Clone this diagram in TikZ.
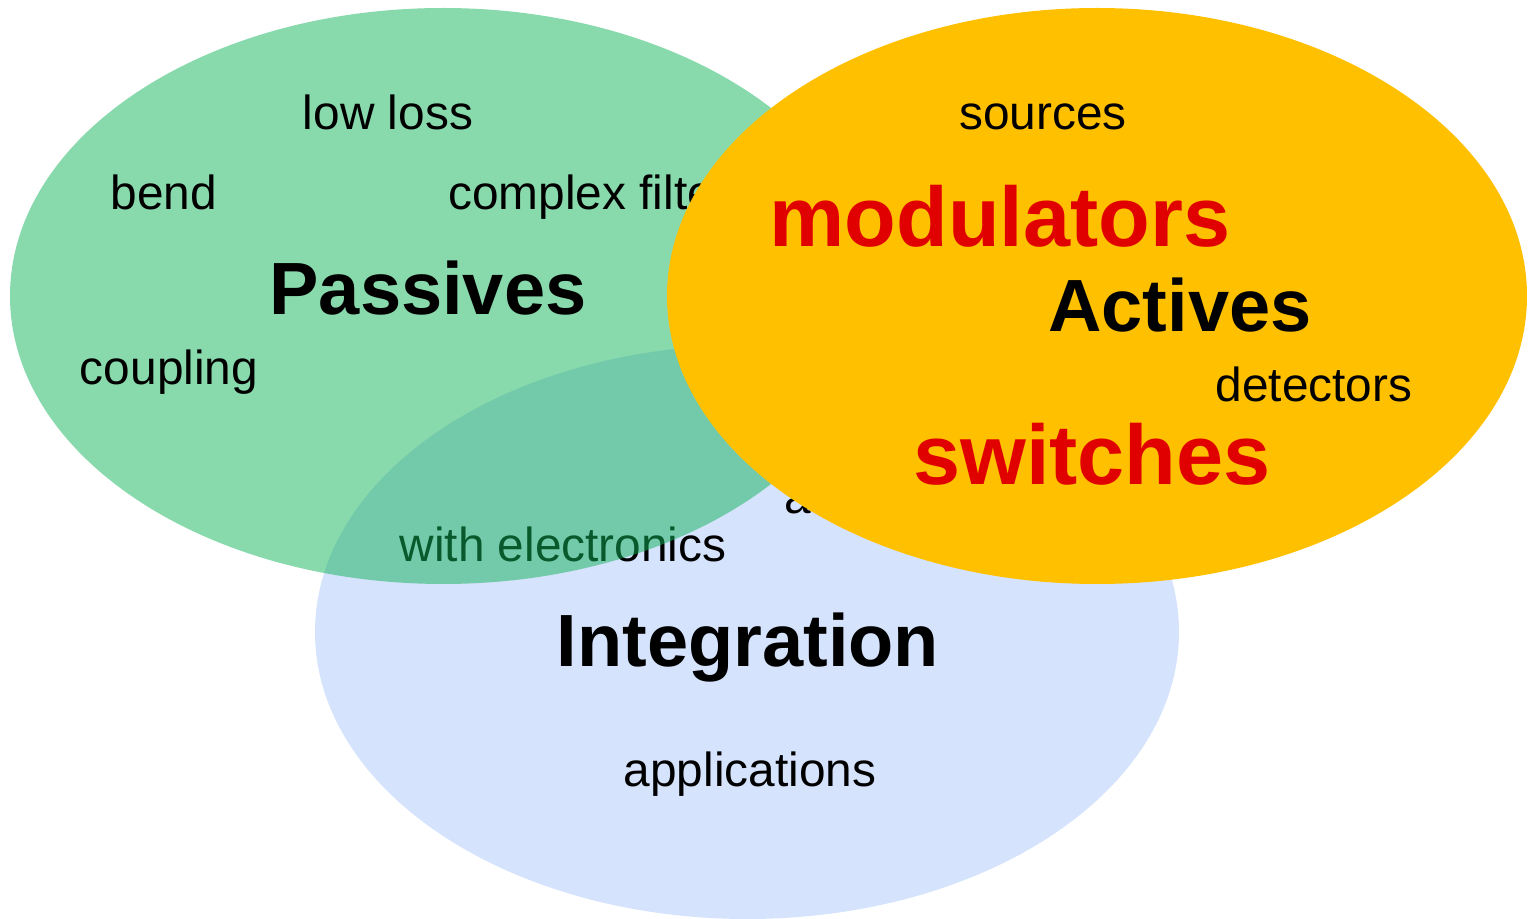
\documentclass[tikz,border=0pt]{standalone}
\usepackage{fontspec}
\setmainfont{Liberation Sans}
\usepackage{tikz}
\usetikzlibrary{calc}

\definecolor{passgreen}{HTML}{11B359}
\definecolor{intblue}{HTML}{D6E3FC}
\definecolor{actorange}{HTML}{FFC000}
\definecolor{actred}{HTML}{E00000}

\tikzset{
  word/.style={anchor=base, inner sep=0pt, font=\fontsize{23.9}{28}\selectfont},
  title/.style={anchor=base, inner sep=0pt, font=\fontsize{37}{44}\selectfont\bfseries},
  hot/.style={anchor=base, inner sep=0pt, text=actred, font=\fontsize{42.3}{50}\selectfont\bfseries}
}

\begin{document}
\begin{tikzpicture}[x=0.5pt, y=-0.5pt]
\useasboundingbox (0,0) rectangle (1528,919);
% integration set
\fill[intblue] (747,632) ellipse [x radius=216pt, y radius=143.5pt];
\path (748,667) node[title] (integ) {Integration}
    (750,786) node[word] (apps) {applications}
    (563,562) node[word] (withel) {with electronics}
    (784,514) node[word, anchor=base west] (adv) {active};
% passives set
\fill[passgreen, fill opacity=0.5] (443,296) ellipse [x radius=216.5pt, y radius=144pt];
\path (428,315) node[title] (pass) {Passives}
    (388,130) node[word] (lowloss) {low loss}
    (164,210) node[word] (bend) {bend}
    (448,210) node[word, anchor=base west] (filt) {complex filters}
    (169,385) node[word] (coupl) {coupling};
% actives set
\fill[actorange] (1097,296) ellipse [x radius=215pt, y radius=144pt];
\path (1180,332) node[title] (act) {Actives}
    (1043,130) node[word] (src) {sources}
    (1000,247) node[hot] (mod) {modulators}
    (1314,402) node[word] (det) {detectors}
    (1092,485) node[hot] (sw) {switches};
\end{tikzpicture}
\end{document}
